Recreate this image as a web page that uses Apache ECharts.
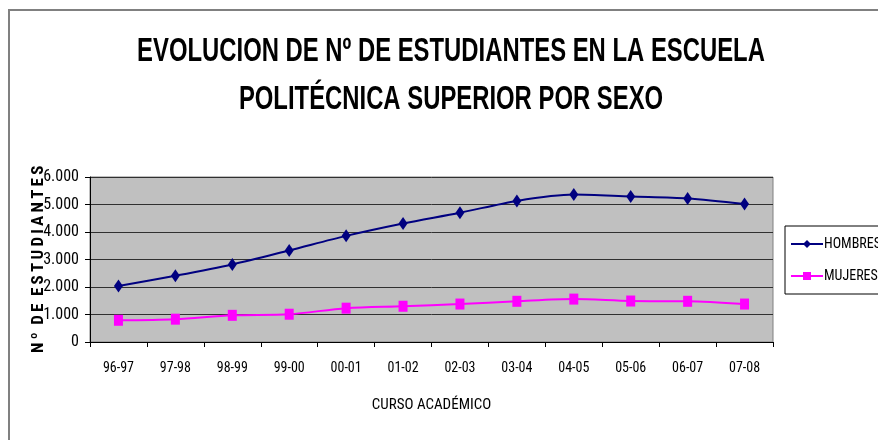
<!DOCTYPE html>
<html>
<head>
<meta charset="utf-8">
<script src="https://cdn.jsdelivr.net/npm/echarts@6/dist/echarts.min.js"></script>
<style>
html,body{margin:0;padding:0;background:#fff;}
#chart{width:878px;height:440px;}
</style>
</head>
<body>
<div id="chart"></div>
<script>
const titleLines = ['EVOLUCION DE Nº DE ESTUDIANTES EN LA ESCUELA', 'POLITÉCNICA SUPERIOR POR SEXO'];
const yAxisTitle = 'N\u2009º\u2002D\u2009E\u2002E\u2009S\u2009T\u2009U\u2009D\u2009I\u2009A\u2009N\u2009T\u2009E\u2009S';
const categories = ['96-97','97-98','98-99','99-00','00-01','01-02','02-03','03-04','04-05','05-06','06-07','07-08'];
const hombres = [2040, 2410, 2820, 3330, 3860, 4310, 4700, 5130, 5360, 5290, 5220, 5020];
const mujeres = [790, 830, 970, 1010, 1230, 1300, 1380, 1480, 1560, 1490, 1480, 1380];
const yTicks = { min: 0, max: 6000, interval: 1000 };

const narrow = "'Roboto Condensed', 'Liberation Sans', sans-serif";
const chart = echarts.init(document.getElementById('chart'));
chart.setOption({
  backgroundColor: '#fff',
  animation: false,
  graphic: [
    { type: 'rect', shape: { x: 9, y: 10, width: 900, height: 460 }, style: { fill: 'none', stroke: '#808080', lineWidth: 2 }, silent: true, z: -1 },
    { type: 'text', x: 451, y: 52, scaleX: 0.723, silent: true,
      style: { text: titleLines[0], fill: '#000', font: "bold 33px 'Liberation Sans', Arial, sans-serif", textAlign: 'center', textVerticalAlign: 'middle' } },
    { type: 'text', x: 451, y: 100, scaleX: 0.723, silent: true,
      style: { text: titleLines[1], fill: '#000', font: "bold 33px 'Liberation Sans', Arial, sans-serif", textAlign: 'center', textVerticalAlign: 'middle' } },
    { type: 'text', x: 39, y: 353, rotation: Math.PI / 2, silent: true,
      style: { text: yAxisTitle, fill: '#000', font: "bold 17px 'Roboto Condensed', 'Liberation Sans', sans-serif", textAlign: 'left', textVerticalAlign: 'middle' } }
  ],
  legend: {
    orient: 'vertical', left: 785, top: 226,
    data: ['HOMBRES', 'MUJERES'],
    itemWidth: 32, itemHeight: 10, itemGap: 18,
    padding: [11, 8, 11, 5],
    borderColor: '#000', borderWidth: 1, backgroundColor: '#fff',
    textStyle: { fontFamily: narrow, fontSize: 14, color: '#000', padding: [0, 0, 0, -4] }
  },
  grid: { left: 90, right: 105, top: 177, bottom: 98, show: true, backgroundColor: '#C0C0C0', borderColor: '#808080', borderWidth: 1 },
  xAxis: {
    type: 'category', data: categories, boundaryGap: true,
    name: 'CURSO ACADÉMICO', nameLocation: 'middle', nameGap: 56,
    nameTextStyle: { fontFamily: narrow, fontSize: 15, color: '#000' },
    axisLine: { lineStyle: { color: '#000', width: 1 } },
    axisTick: { show: true, length: 5, lineStyle: { color: '#000' } },
    axisLabel: { fontFamily: narrow, fontSize: 14, color: '#000', margin: 19 },
    splitLine: { show: false }
  },
  yAxis: {
    type: 'value', min: yTicks.min, max: yTicks.max, interval: yTicks.interval,
    axisLine: { show: true, lineStyle: { color: '#000', width: 1 } },
    axisTick: { show: true, length: 5, lineStyle: { color: '#000' } },
    axisLabel: {
      fontFamily: narrow, fontSize: 16, color: '#000', margin: 11,
      formatter: v => v === 0 ? '0' : (v / 1000).toFixed(0) + '.000'
    },
    splitLine: { show: true, lineStyle: { color: '#303030', width: 1 } }
  },
  series: [
    {
      name: 'HOMBRES', type: 'line', data: hombres, smooth: 0.3,
      symbol: 'diamond', symbolSize: [9, 13],
      lineStyle: { color: '#000080', width: 2 },
      itemStyle: { color: '#000080' }
    },
    {
      name: 'MUJERES', type: 'line', data: mujeres, smooth: 0.3,
      symbol: 'rect', symbolSize: [9, 11],
      lineStyle: { color: '#FF00FF', width: 2 },
      itemStyle: { color: '#FF00FF' }
    }
  ]
});
</script>
</body>
</html>
